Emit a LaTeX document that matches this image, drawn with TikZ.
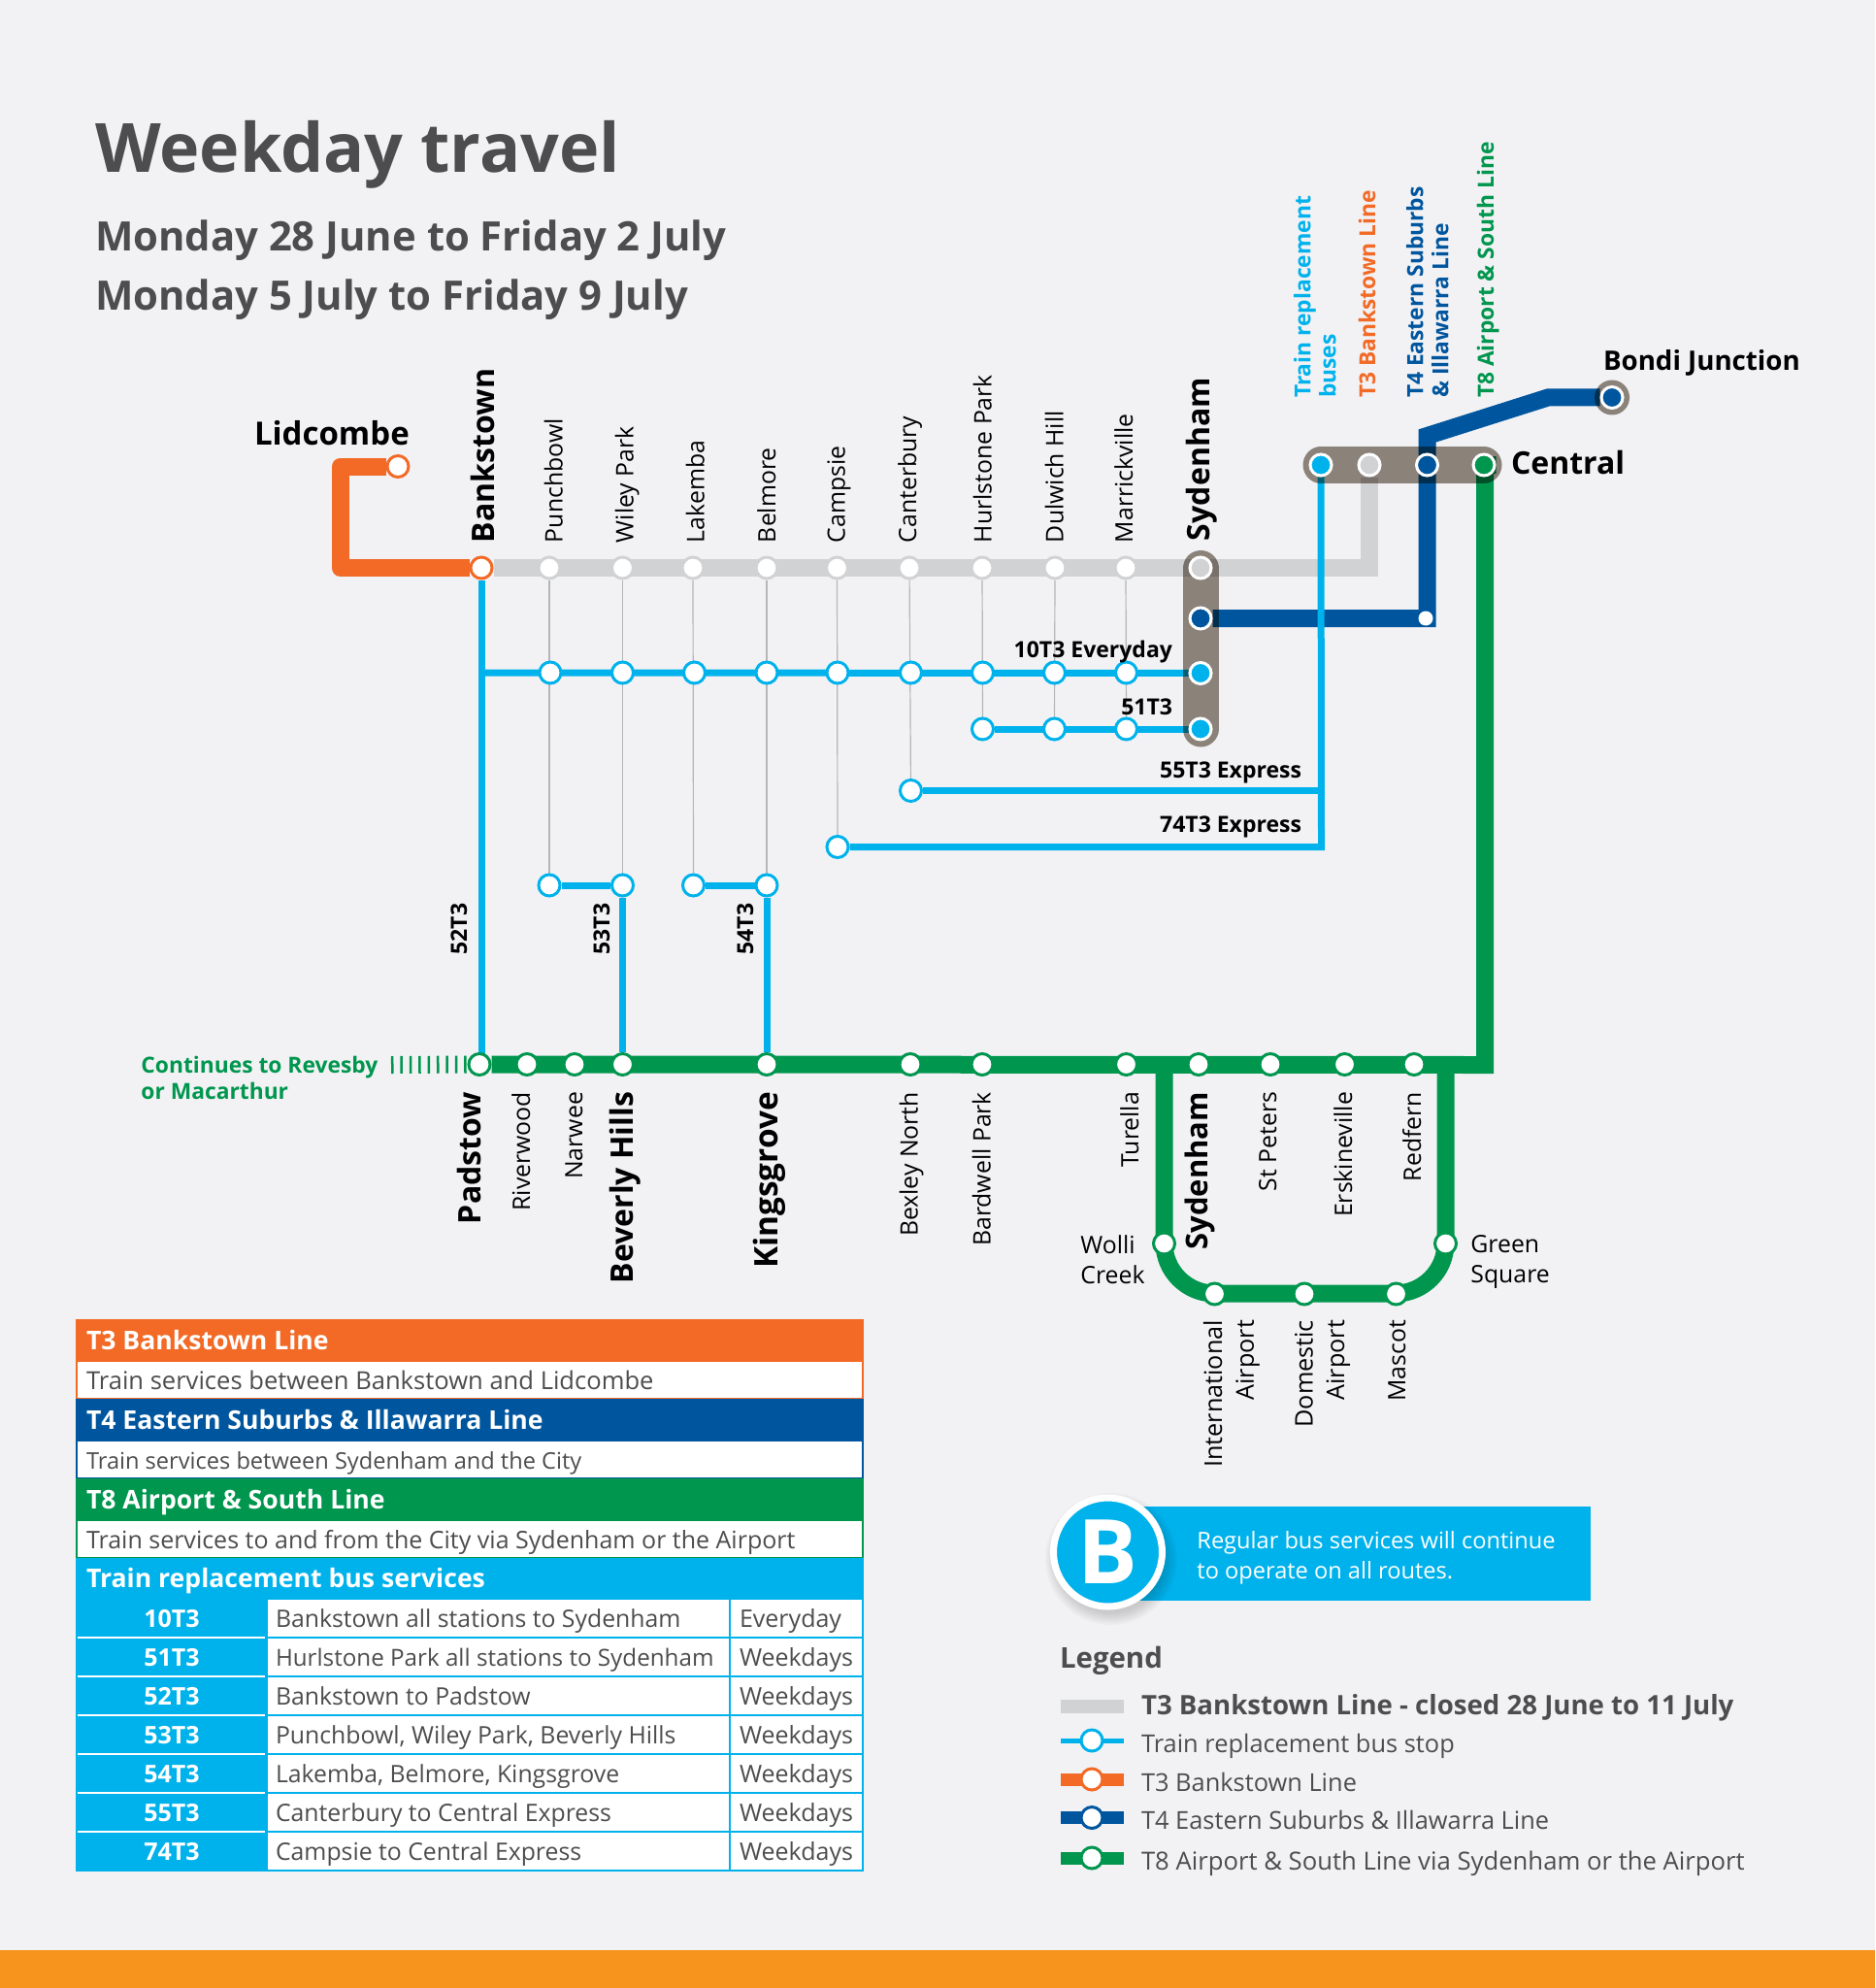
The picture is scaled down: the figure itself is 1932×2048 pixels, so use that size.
\documentclass[tikz,border=0pt]{standalone}
\usepackage{fontspec}
\setmainfont{Open Sans}
\usetikzlibrary{positioning}
\pgfdeclarelayer{lines}
\pgfdeclarelayer{pills}
\pgfsetlayers{lines,pills,main}
\definecolor{pagebg}{HTML}{F2F2F5}
\definecolor{tthree}{HTML}{F26A26}
\definecolor{tfour}{HTML}{00569E}
\definecolor{teight}{HTML}{00964E}
\definecolor{buscol}{HTML}{00B2EC}
\definecolor{closedcol}{HTML}{D1D2D4}
\definecolor{pillcol}{HTML}{938980}
\definecolor{thincol}{HTML}{B5B6B8}
\definecolor{inkgrey}{HTML}{4D4D4F}
\definecolor{barcol}{HTML}{F7941D}
\newcommand{\fs}[2]{\fontsize{#1}{#2}\selectfont}
\tikzset{
  txt/.style={inner sep=0pt, outer sep=0pt, anchor=base west},
  stntop/.style={txt, rotate=90, font=\fs{12.4}{16}},
  stnlow/.style={txt, rotate=90, anchor=base east, font=\fs{12.4}{16}},
  majtop/.style={stntop, font=\fs{16}{20}\bfseries},
  majlow/.style={stnlow, font=\fs{16}{20}\bfseries},
  rte/.style={txt, font=\fs{11.5}{14}\bfseries},
  rtevert/.style={rte, rotate=90, anchor=base},
  hdr/.style={inner sep=0pt, outer sep=0pt, rotate=90, anchor=north west, align=left, font=\fs{11.4}{13}\bfseries},
  tblhead/.style={txt, text=white, font=\fs{13.3}{15}\bfseries},
  tbltxt/.style={txt, text=inkgrey, font=\fs{12.4}{15}},
  lgd/.style={txt, text=inkgrey, font=\fs{12.7}{15}},
  stop/.style={circle, fill=white, draw=#1, line width=1.5pt, minimum size=11pt, inner sep=0pt},
  hub/.style={circle, fill=#1, draw=white, line width=1.5pt, minimum size=11pt, inner sep=0pt},
  busline/.style={draw=buscol, line width=3.5pt},
  heavy/.style={draw=#1, line width=9pt},
  thin line/.style={draw=thincol, line width=.6pt},
  pill/.style={draw=pillcol, line width=18.5pt, line cap=round}
}
\begin{document}
\begin{tikzpicture}[x=.5pt,y=-.5pt]
  \useasboundingbox (0,0) rectangle (1932,2048);

  % stops
  \foreach \nm/\px in {punchg/566,wileyg/641.5,lakeg/714,belg/790,campg/862.5,cantg/937,hurlg/1012,dulg/1087,marg/1160}
    \node[stop=closedcol] (\nm) at (\px,585) {};
  \foreach \nm/\px in {punchr/567,wileyr/641.5,laker/715.5,belr/790,campr/863,cantr/938.5,hurlr/1012.5,dulr/1086.5,marr/1160.5}
    \node[stop=buscol] (\nm) at (\px,693) {};
  \foreach \nm/\px in {hurls/1012.5,duls/1086.5,mars/1160.5}
    \node[stop=buscol] (\nm) at (\px,751) {};
  \node[stop=buscol] (cante) at (938.5,814.5) {};
  \node[stop=buscol] (campe) at (863,872.5) {};
  \foreach \nm/\px in {punchb/566,wileyb/641.5,lakeb/714.5,belb/790}
    \node[stop=buscol] (\nm) at (\px,912) {};
  \foreach \nm/\px in {pad/494,river/543,narwee/592,bev/641.5,king/790,bex/938,bard/1012,tur/1160.5,sydl/1235,stp/1309,ersk/1385.5,red/1457}
    \node[stop=teight] (\nm) at (\px,1096.5) {};
  \node[stop=teight] (wolli) at (1199.5,1281) {};
  \node[stop=teight] (green) at (1489.5,1281) {};
  \node[stop=teight] (inter) at (1251.5,1333) {};
  \node[stop=teight] (dom) at (1344,1333) {};
  \node[stop=teight] (masc) at (1438.5,1333) {};
  \node[stop=tthree] (bank) at (496,585) {};
  \node[stop=tthree] (lid) at (410,480.5) {};
  \node[hub=closedcol] (syda) at (1237,585) {};
  \node[hub=tfour] (sydb) at (1237,637) {};
  \node[hub=buscol] (sydc) at (1237,693.5) {};
  \node[hub=buscol] (sydd) at (1237,751) {};
  \node[hub=buscol] (cena) at (1361,479) {};
  \node[hub=closedcol] (cenb) at (1411,479) {};
  \node[hub=tfour] (cenc) at (1470.5,479) {};
  \node[hub=teight] (cend) at (1529,479) {};
  \node[hub=tfour] (bondi) at (1661,409.5) {};
  \node[circle, fill=white, inner sep=0pt, minimum size=7.5pt] (tfourend) at (1469,637) {};

  \coordinate (lidc) at (350.5,480.5);
  \coordinate (lidd) at (350.5,585);
  \coordinate (clsa) at (1411,585);
  \coordinate (fora) at (1470.5,637);
  \coordinate (forb) at (1470.5,449);
  \coordinate (forc) at (1595,409.5);
  \coordinate (eia) at (1530,1097);
  \coordinate (eib) at (1530,479);
  \coordinate (rev) at (403,1097);
  \coordinate (loopa) at (1199.5,1097);
  \coordinate (loopb) at (1199.5,1332.5);
  \coordinate (loopc) at (1489.5,1332.5);
  \coordinate (loopd) at (1489.5,1097);
  \coordinate (tena) at (496,693);
  \coordinate (fivea) at (1361.5,814.5);
  \coordinate (sevena) at (1361.5,872.5);
  \coordinate (padb) at (496,1097);

  \begin{pgfonlayer}{lines}
    \fill[pagebg] (0,0) rectangle (1932,2048);
    \fill[barcol] (0,2009) rectangle (1932,2048);
    % thin drops
    \foreach \from/\to in {punchg/punchb,wileyg/wileyb,lakeg/lakeb,belg/belb,campg/campe,cantg/cante,hurlg/hurls,dulg/duls,marg/mars}
      \path [thin line] (\from) edge (\to);
    % rail
    \draw[heavy=closedcol] (bank) -- (clsa) -- (cenb);
    \draw[heavy=tthree, line join=round] (lid) -- (lidc) -- (lidd) -- (bank);
    \draw[heavy=tfour] (sydb) -- (fora) -- (forb) -- (forc) -- (bondi);
    \draw[heavy=teight] (pad) -- (eia) -- (eib) -- (cend);
    \draw[heavy=teight, rounded corners=26pt] (loopa) -- (loopb) -- (loopc) -- (loopd);
    \draw[heavy=teight, dash pattern=on 1.25pt off 3.45pt] (rev) -- (pad);
    % bus
    \draw[busline] (cena) -- (sevena) -- (campe);
    \path [busline] (fivea) edge (cante);
    \path [busline] (tena) edge (sydc);
    \path [busline] (hurls) edge (sydd);
    \path [busline] (punchb) edge (wileyb);
    \path [busline] (lakeb) edge (belb);
    \path [busline] (bank) edge (padb);
    \path [busline] (wileyb) edge (bev);
    \path [busline] (belb) edge (king);
  \end{pgfonlayer}

  \begin{pgfonlayer}{pills}
    \begin{scope}[blend mode=multiply]
      \draw[pill] (1237,585.5) -- (1237,751);
      \draw[pill] (1361,479) -- (1529,479);
      \fill[pillcol] (1661,409.5) circle[radius=18];
    \end{scope}
  \end{pgfonlayer}

  % title
  \node[txt, text=inkgrey, font=\fs{35}{40}\bfseries] (title) at (98,178) {Weekday travel};
  \node[txt, text=inkgrey, font=\fs{20.9}{24}\bfseries] (suba) at (98,259) {Monday 28 June to Friday 2 July};
  \node[txt, text=inkgrey, font=\fs{20.9}{24}\bfseries] (subb) at (98,320) {Monday 5 July to Friday 9 July};

  % station names
  \foreach \nm/\bx/\tx in {lpunch/579.5/Punchbowl,lwiley/652.5/Wiley Park,llake/725.5/Lakemba,lbel/799/Belmore,lcamp/870.5/Campsie,lcant/944/Canterbury,lhurl/1021.5/Hurlstone Park,ldul/1095.5/Dulwich Hill,lmar/1167/Marrickville}
    \node[stntop] (\nm) at (\bx,559) {\tx};
  \node[majtop] (lbank) at (509,559) {Bankstown};
  \node[majtop] (lsyda) at (1246,557) {Sydenham};
  \foreach \nm/\bx/\tx in {lriver/546/Riverwood,lnarwee/600/Narwee,lbex/945.5/Bexley North,lbard/1020.5/Bardwell Park,ltur/1173/Turella,lstp/1315/St Peters,lersk/1393/Erskineville,lred/1464/Redfern}
    \node[stnlow] (\nm) at (\bx,1125) {\tx};
  \foreach \nm/\bx/\tx in {lpad/495/Padstow,lbev/652/Beverly Hills}
    \node[majlow] (\nm) at (\bx,1125) {\tx};
  \node[majlow, font=\fs{16.7}{20}\bfseries] (lking) at (801,1125) {Kingsgrove};
  \node[majlow, font=\fs{15.5}{20}\bfseries] (lsydb) at (1244,1125) {Sydenham};
  \node[stnlow] (lmasc) at (1448,1360) {Mascot};
  \node[hdr, anchor=north east, align=right, font=\fs{12.6}{16.3}] (linter) at (1240,1360) {International\\Airport};
  \node[hdr, anchor=north east, align=right, font=\fs{12.6}{16.3}] (ldom) at (1334,1360) {Domestic\\Airport};
  \node[inner sep=0pt, anchor=north west, align=left, font=\fs{12.4}{15.8}] (lwolli) at (1113,1272) {Wolli\\Creek};
  \node[inner sep=0pt, anchor=north west, align=left, font=\fs{12.4}{15.8}] (lgreen) at (1515,1272) {Green\\Square};
  \node[txt, font=\fs{16.5}{20}\bfseries] (llid) at (262,458.5) {Lidcombe};
  \node[txt, font=\fs{13.85}{16}\bfseries] (lbondi) at (1652,382) {Bondi Junction};
  \node[txt, font=\fs{16}{18}\bfseries] (lcen) at (1557,488.5) {Central};

  % route names
  \node[rte, anchor=base east] (rten) at (1208,677) {10T3 Everyday};
  \node[rte, anchor=base east] (rfifa) at (1208,736) {51T3};
  \node[rte, anchor=base east] (rfife) at (1341,801) {55T3 Express};
  \node[rte, anchor=base east] (rsev) at (1341,857.5) {74T3 Express};
  \node[rtevert] (rtwo) at (481,957) {52T3};
  \node[rtevert] (rthr) at (628,957) {53T3};
  \node[rtevert] (rfor) at (776,957) {54T3};
  \node[inner sep=0pt, anchor=north west, align=left, text=teight, font=\fs{11.4}{13.5}\bfseries] (lcont) at (145,1087.5) {Continues to Revesby\\or Macarthur};

  % line names
  \node[hdr, text=buscol] (hbus) at (1333,410) {Train replacement\\buses};
  \node[hdr, text=tthree, anchor=base west] (hthree) at (1417,410) {T3 Bankstown Line};
  \node[hdr, text=tfour] (hfour) at (1449,410) {T4 Eastern Suburbs\\\& Illawarra Line};
  \node[hdr, text=teight, anchor=base west] (height) at (1539,410) {T8 Airport \& South Line};

  % table
  \foreach \yt/\yb/\col/\nm/\sz/\head/\body in {1359/1402/tthree/tha/12.78/T3 Bankstown Line/Train services between Bankstown and Lidcombe,
      1441/1484/tfour/thb/11.8/T4 Eastern Suburbs \& Illawarra Line/Train services between Sydenham and the City,
      1523/1566/teight/thc/12.5/T8 Airport \& South Line/Train services to and from the City via Sydenham or the Airport} {
    \fill[\col] (78,\yt) rectangle (890,\yb);
    \draw[\col, fill=white, line width=1.25pt] (79,\yb) rectangle (889,\yb+39);
    \node[tblhead] (\nm) at (89,\yb-12) {\head};
    \node[tbltxt, font=\fs{\sz}{15}] (\nm b) at (89,\yb+29) {\body};
  }
  \fill[buscol] (78,1605) rectangle (890,1646);
  \node[tblhead] (thd) at (89,1635) {Train replacement bus services};
  \foreach \nm/\yb/\sz/\code/\desc/\days in {ra/1687/12.4/10T3/Bankstown all stations to Sydenham/Everyday,
      rb/1727/12.1/51T3/Hurlstone Park all stations to Sydenham/Weekdays,
      rc/1767/12.4/52T3/Bankstown to Padstow/Weekdays,
      rd/1807/12.4/53T3/{Punchbowl, Wiley Park, Beverly Hills}/Weekdays,
      re/1847/12.4/54T3/{Lakemba, Belmore, Kingsgrove}/Weekdays,
      rf/1887/12.4/55T3/Canterbury to Central Express/Weekdays,
      rg/1927/12.4/74T3/Campsie to Central Express/Weekdays} {
    \fill[buscol] (78,\yb-41) rectangle (275,\yb+1);
    \draw[buscol, fill=white, line width=1.25pt] (275,\yb-40) rectangle (752,\yb);
    \draw[buscol, fill=white, line width=1.25pt] (752,\yb-40) rectangle (889,\yb);
    \node[txt, anchor=base, text=white, font=\fs{12.5}{15}\bfseries] (\nm a) at (177,\yb-10.5) {\code};
    \node[tbltxt, font=\fs{\sz}{15}] (\nm b) at (284,\yb-10.5) {\desc};
    \node[tbltxt, font=\fs{12.5}{15}] (\nm c) at (762,\yb-10.5) {\days};
  }
  \foreach \yb in {1687,1727,1767,1807,1847,1887}
    \draw[white, line width=.75pt] (80,\yb) -- (273,\yb);

  % bus note
  \fill[buscol] (1140,1552) rectangle (1639,1649);
  \foreach \r in {56,58,...,68}
    \fill[black, opacity=.025] (1145,1606) circle[radius=\r];
  \node[circle, fill=buscol, draw=white, line width=3.5pt, minimum size=56pt, inner sep=0pt, text=white, font=\fs{46}{50}\bfseries] (bcirc) at (1141.5,1599) {B};
  \node[inner sep=0pt, anchor=north west, align=left, text=white, font=\fs{11.8}{15.5}] (bnote) at (1233,1577) {Regular bus services will continue\\to operate on all routes.};

  % legend
  \node[txt, text=inkgrey, font=\fs{14.7}{18}\bfseries] (ltitle) at (1092,1718) {Legend};
  \fill[closedcol] (1093,1751) rectangle (1157.5,1765);
  \draw[busline, line width=2.5pt] (1093,1793) -- (1157.5,1793);
  \fill[tthree] (1093,1826.5) rectangle (1157.5,1839.5);
  \fill[tfour] (1093,1866) rectangle (1157.5,1879);
  \fill[teight] (1093,1907.5) rectangle (1157.5,1920.5);
  \node[stop=buscol] (lga) at (1125,1793) {};
  \node[stop=tthree] (lgb) at (1125,1833) {};
  \node[stop=tfour] (lgc) at (1125,1872.5) {};
  \node[stop=teight] (lgd) at (1125,1914) {};
  \node[lgd, font=\fs{13.8}{15}\bfseries] (lta) at (1176,1766) {T3 Bankstown Line - closed 28 June to 11 July};
  \node[lgd] (ltb) at (1176,1805) {Train replacement bus stop};
  \node[lgd] (ltc) at (1176,1845) {T3 Bankstown Line};
  \node[lgd] (ltd) at (1176,1884) {T4 Eastern Suburbs \& Illawarra Line};
  \node[lgd, font=\fs{12.84}{15}] (lte) at (1176,1926) {T8 Airport \& South Line via Sydenham or the Airport};
\end{tikzpicture}
\end{document}
